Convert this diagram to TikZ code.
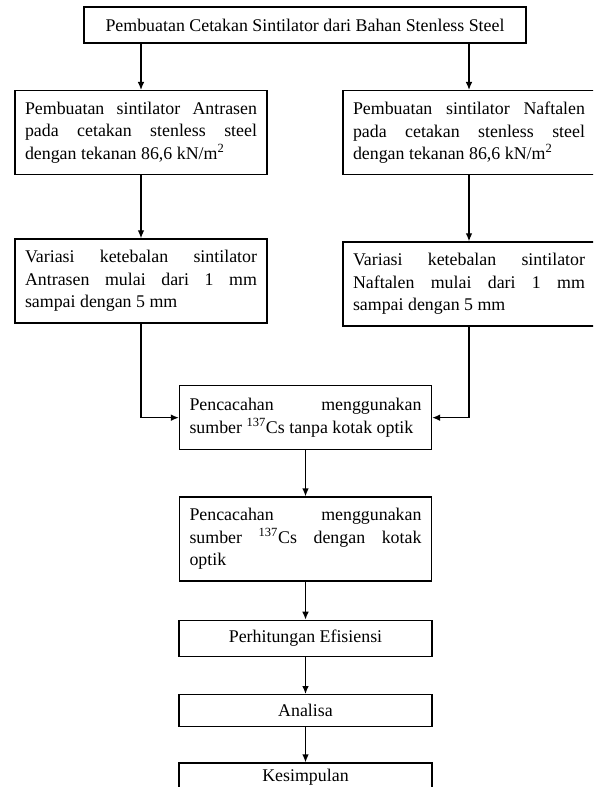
\documentclass[tikz,border=0pt]{standalone}
\usepackage{fontspec}
\setmainfont{Liberation Serif}
\usetikzlibrary{arrows.meta, positioning}

\begin{document}
\hyphenpenalty=10000
\begin{tikzpicture}[
  x=0.75pt, y=-0.75pt,
  >={Latex[length=6pt,width=5pt]}, line width=1pt,
  blok/.style = {draw, rectangle, align=center, inner sep=0pt,
                 font=\fontsize{13.4}{16.9}\selectfont},
  teks/.style = {blok, text width=174pt, align=justify, inner xsep=7.5pt,
                 minimum height=63pt},
  pendek/.style = {blok, minimum width=189.75pt, minimum height=27pt},
]
  \useasboundingbox (0,0) rectangle (593,787);
  \clip (0,0) rectangle (593,787);

  \node[blok, minimum width=331.5pt, minimum height=27pt] (judul) at (305,25)
      {Pembuatan Cetakan Sintilator dari Bahan Stenless Steel};

  \node[teks, anchor=north] (antra1) at (141,90)
      {Pembuatan sintilator Antrasen\linebreak pada cetakan stenless steel\linebreak
       dengan tekanan 86,6 kN/m\textsuperscript{2}};
  \node[teks, anchor=north] (naf1) at (469,90)
      {Pembuatan sintilator Naftalen\linebreak pada cetakan stenless steel\linebreak
       dengan tekanan 86,6 kN/m\textsuperscript{2}};

  \node[teks, below=47.25pt of antra1] (antra2)
      {Variasi ketebalan sintilator\linebreak Antrasen mulai dari 1 mm\linebreak
       sampai dengan 5 mm};
  \node[teks, below=49.5pt of naf1] (naf2)
      {Variasi ketebalan sintilator\linebreak Naftalen mulai dari 1 mm\linebreak
       sampai dengan 5 mm};

  \node[teks, anchor=north, minimum height=48pt] (cacah1) at (305.5,385)
      {Pencacahan menggunakan\linebreak sumber \textsuperscript{137}Cs tanpa kotak optik};
  \node[teks, below=34.5pt of cacah1] (cacah2)
      {Pencacahan menggunakan\linebreak sumber \textsuperscript{137}Cs dengan kotak\linebreak optik};

  \node[pendek, below=28.5pt of cacah2]                   (hitung)  {Perhitungan Efisiensi};
  \node[pendek, below=27.75pt of hitung, minimum height=24pt] (analisa) {Analisa};
  \node[pendek, below=26.25pt of analisa, minimum height=0pt,
        text height=13.5pt, text depth=10pt]              (simpul)  {Kesimpulan};

  % dua cabang dari judul
  \draw[->] (judul.south -| antra1.north) -- (antra1.north);
  \draw[->] (judul.south -| naf1.north)   -- (naf1.north);
  \draw[->] (antra1) -- (antra2);
  \draw[->] (naf1)   -- (naf2);

  % bergabung ke pencacahan
  \draw[->] (antra2.south) |- (cacah1.west);
  \draw[->] (naf2.south)   |- (cacah1.east);

  \draw[->] (cacah1)  -- (cacah2);
  \draw[->] (cacah2)  -- (hitung);
  \draw[->] (hitung)  -- (analisa);
  \draw[->] (analisa) -- (simpul);
\end{tikzpicture}
\end{document}
